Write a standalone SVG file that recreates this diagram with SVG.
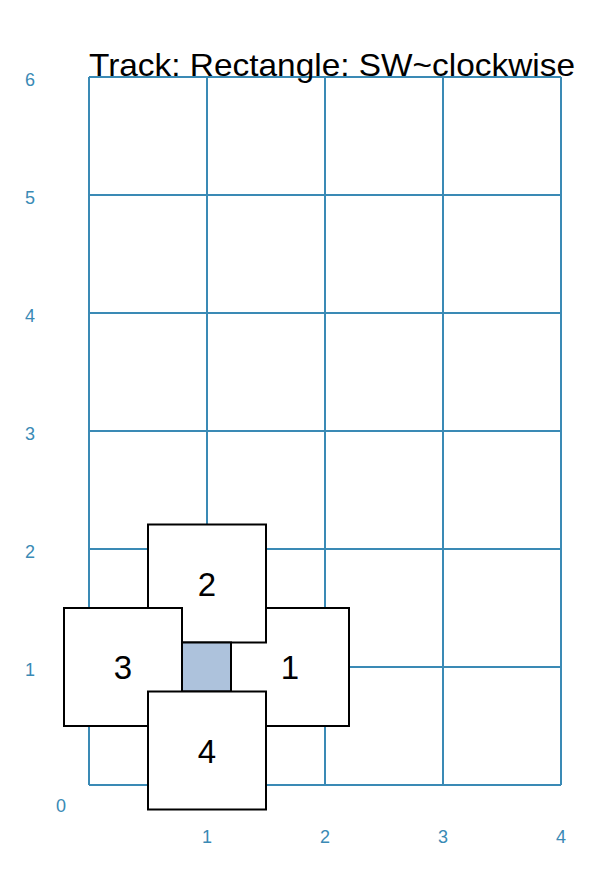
<svg xmlns="http://www.w3.org/2000/svg" width="615" height="875" viewBox="0 0 615 875">
<style>
.grid{stroke:#3a8ab5;stroke-width:2;fill:none}
.ax{fill:#3a8ab5;font-family:"Liberation Sans",Arial,sans-serif;font-size:18px;text-anchor:middle}
.box{fill:#ffffff;stroke:#000000;stroke-width:2}
.num{fill:#000000;font-family:"Liberation Sans",Arial,sans-serif;font-size:33px;text-anchor:middle}
</style>
<rect width="615" height="875" fill="#ffffff"/>
<g id="grid">
<path class="grid" d="M89,77V785M207,77V785M325,77V785M443,77V785M561,77V785M89,77H561M89,195H561M89,313H561M89,431H561M89,549H561M89,667H561M89,785H561"/>
</g>
<g id="axes">
<text class="ax" x="30" y="86">6</text>
<text class="ax" x="30" y="204">5</text>
<text class="ax" x="30" y="322">4</text>
<text class="ax" x="30" y="440">3</text>
<text class="ax" x="30" y="558">2</text>
<text class="ax" x="30" y="676">1</text>
<text class="ax" x="61" y="812">0</text>
<text class="ax" x="207" y="843">1</text>
<text class="ax" x="325" y="843">2</text>
<text class="ax" x="443" y="843">3</text>
<text class="ax" x="561" y="843">4</text>
</g>
<text id="title" x="89" y="76" font-family="Liberation Sans,Arial,sans-serif" font-size="32" textLength="486" lengthAdjust="spacingAndGlyphs" fill="#000">Track: Rectangle: SW~clockwise</text>
<g id="connectors"></g>
<g id="node1"><rect class="box" x="231" y="608" width="118" height="118"/><text class="num" x="290" y="679">1</text></g>
<g id="node2"><rect class="box" x="148" y="524.5" width="118" height="118"/><text class="num" x="207" y="595.5">2</text></g>
<g id="node3"><rect class="box" x="64" y="608" width="118" height="118"/><text class="num" x="123" y="679">3</text></g>
<g id="center"><rect x="182" y="642.5" width="49" height="49" fill="#adc2dc" stroke="#000" stroke-width="2"/></g>
<g id="node4"><rect class="box" x="148" y="691.5" width="118" height="118"/><text class="num" x="207" y="762.5">4</text></g>
</svg>
